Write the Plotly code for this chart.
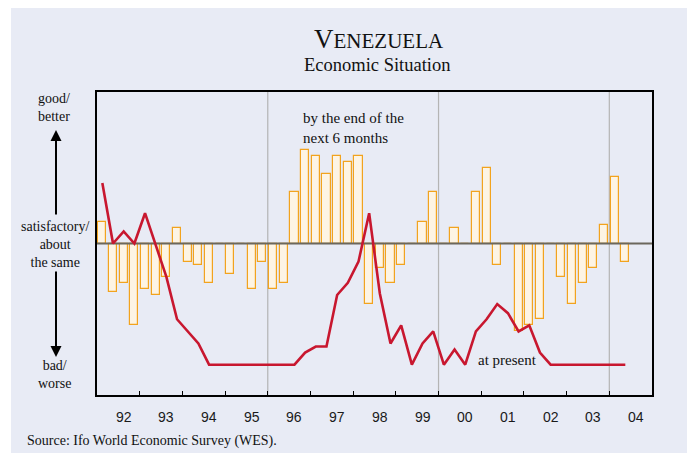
import plotly.graph_objects as go

# Quarterly survey results, 1992 Q1 onward (balance scale, -100 = bad/worse, +100 = good/better)
first_year = 1992
expectations_6m = [14, -32, -26, -54, -30, -34, -22, 10, -12, -14, -26, 0,
                   -20, 0, -30, -12, -30, -26, 34, 62, 58, 46, 58, 54,
                   58, -40, -16, -26, -14, 0, 14, 34, 0, 10, 0, 34,
                   50, -14, 0, -58, -54, -50, 0, -22, -40, -26, -16, 12,
                   44, -12]
present_situation = [40, 0, 8, 0, 20, -1, -22, -50, -58, -66, -80, -80,
                     -80, -80, -80, -80, -80, -80, -80, -72, -68, -68, -34, -26,
                     -12, 20, -33, -66, -54, -80, -66, -58, -80, -70, -80, -58,
                     -50, -40, -46, -58, -54, -72, -80, -80, -80, -80, -80, -80,
                     -80, -80]
year_labels = ["92", "93", "94", "95", "96", "97", "98", "99", "00", "01", "02", "03", "04"]
divider_years = [1996, 2000, 2004]
x_range = [1992, 2005]
y_range = [-100, 100]

# quarter centres in fractional years
quarters = [first_year + i * 0.25 + 0.125 for i in range(len(present_situation))]
year_starts = [first_year + k for k in range(len(year_labels) + 1)]
label_pos = [y + 0.625 for y in year_starts[:len(year_labels)]]

W, H = 687, 453
PL, PR, PT, PB = 97, 652, 92, 395


def px_x(px):
    return (px - PL) / (PR - PL)


def px_y(py):
    return (PB - py) / (PB - PT)


SERIF = "Liberation Serif, Times New Roman, serif"
SANS = "Liberation Sans, Arial, sans-serif"

fig = go.Figure()

fig.add_trace(go.Bar(
    x=quarters, y=expectations_6m, width=0.19,
    marker=dict(color="#FDF4E4", line=dict(color="#F2A31E", width=1.2)),
    showlegend=False, hoverinfo="skip",
))

# zero (satisfactory) line, over the bars but under the present-situation line
fig.add_trace(go.Scatter(
    x=x_range, y=[0, 0], mode="lines",
    line=dict(color="#6B675C", width=2.2),
    showlegend=False, hoverinfo="skip",
))

fig.add_trace(go.Scatter(
    x=quarters, y=present_situation, mode="lines",
    line=dict(color="#C8172F", width=2.6),
    showlegend=False, hoverinfo="skip",
))

shapes = [
    dict(type="rect", xref="paper", yref="paper",
         x0=px_x(11), x1=px_x(W + 5), y0=px_y(8), y1=px_y(H + 5),
         fillcolor="#E8EBF5", line=dict(width=0), layer="below"),
]
for yr in divider_years:
    shapes.append(dict(type="line", xref="x", yref="paper", x0=yr, x1=yr, y0=0, y1=1,
                       line=dict(color="#B4B4B4", width=1.2), layer="below"))

annotations = [
    dict(text='<span style="font-size:27px">V</span>ENEZUELA', x=px_x(379), y=px_y(39),
         font=dict(family=SERIF, size=21, color="#111")),
    dict(text="Economic Situation", x=px_x(377), y=px_y(65),
         font=dict(family=SERIF, size=18.5, color="#111")),
    dict(text="good/<br>better", x=px_x(54), y=px_y(108),
         font=dict(family=SERIF, size=14, color="#111")),
    dict(text="satisfactory/<br>about<br>the same", x=px_x(55), y=px_y(244),
         font=dict(family=SERIF, size=14, color="#111")),
    dict(text="bad/<br>worse", x=px_x(54), y=px_y(374),
         font=dict(family=SERIF, size=14, color="#111")),
    dict(text="by the end of the<br>next 6 months", x=px_x(301), y=px_y(128), xanchor="left",
         align="left", font=dict(family=SERIF, size=15, color="#111")),
    dict(text="at present", x=px_x(476), y=px_y(360), xanchor="left",
         font=dict(family=SERIF, size=15, color="#111")),
    dict(text="Source: Ifo World Economic Survey (WES).", x=px_x(25), y=px_y(441), xanchor="left",
         font=dict(family=SERIF, size=14, color="#111")),
]

# direction arrows beside the scale words (tail offsets in pixels)
annotations.append(dict(x=px_x(56), y=px_y(130), ax=0, ay=86, text="", showarrow=True,
                        arrowhead=2, arrowsize=1.1, arrowwidth=2, arrowcolor="#000"))
annotations.append(dict(x=px_x(56), y=px_y(357), ax=0, ay=-87, text="", showarrow=True,
                        arrowhead=2, arrowsize=1.1, arrowwidth=2, arrowcolor="#000"))

for pos, lab in zip(label_pos, year_labels):
    annotations.append(dict(text=lab, x=pos, xref="x", y=px_y(417), yref="paper",
                            font=dict(family=SANS, size=14, color="#1a1a1a")))

for a in annotations:
    a.setdefault("xref", "paper")
    a.setdefault("yref", "paper")
    a.setdefault("showarrow", False)
    a.setdefault("xanchor", "center")
    a.setdefault("yanchor", "middle")

fig.update_layout(
    width=W, height=H,
    margin=dict(l=PL, r=W - PR, t=PT, b=H - PB, pad=0),
    paper_bgcolor="white", plot_bgcolor="white",
    shapes=shapes, annotations=annotations,
    bargap=0, showlegend=False,
    xaxis=dict(range=x_range, tickvals=year_starts[1:-1], ticks="inside", ticklen=4,
               tickwidth=1, tickcolor="#000", showticklabels=False, showgrid=False,
               zeroline=False, showline=True, linecolor="#000", linewidth=1.5, mirror=True),
    yaxis=dict(range=y_range, showticklabels=False, ticks="", showgrid=False,
               zeroline=False, showline=True, linecolor="#000", linewidth=1.5, mirror=True),
)

fig.write_html("out.html")
